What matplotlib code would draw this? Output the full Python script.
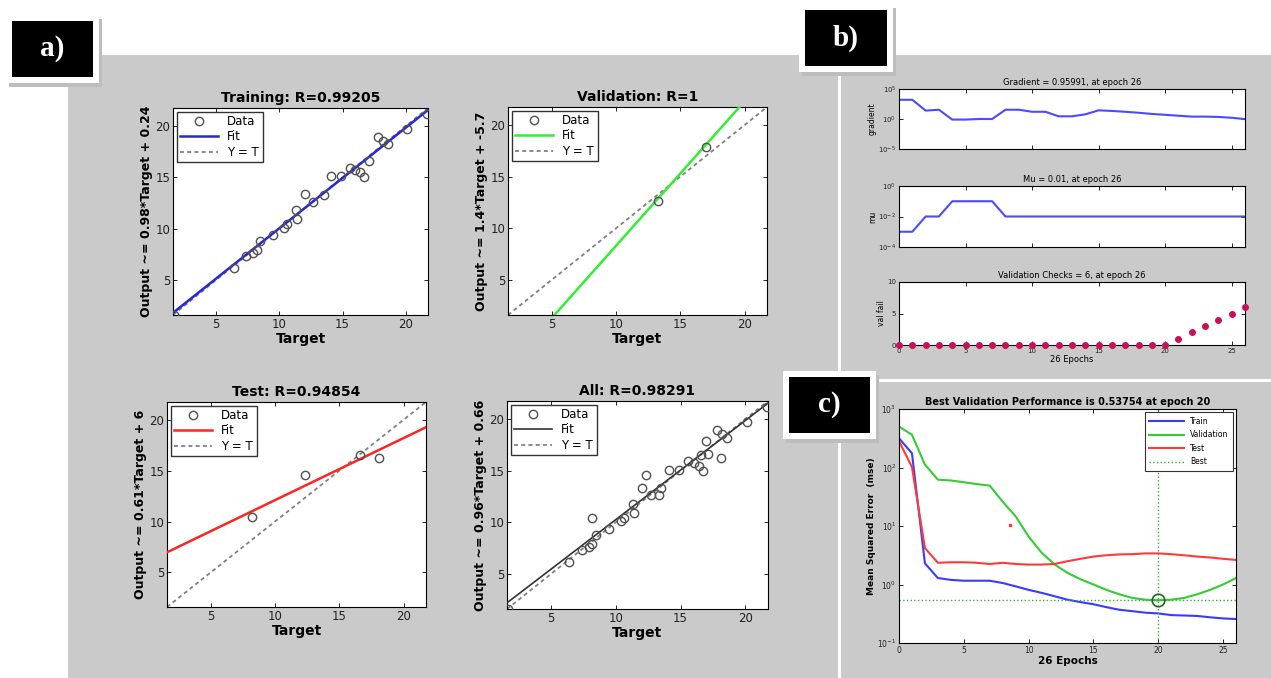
import numpy as np
import matplotlib.pyplot as plt
from matplotlib.patches import Rectangle

W, H = 1271, 678

# ---- regression data (Target, Output) ----
train_t = [1.7, 6.4, 7.4, 7.9, 8.2, 8.5, 9.5, 10.4, 10.6, 11.3, 11.4, 12.0, 12.7, 13.5,
           14.1, 14.9, 15.6, 16.0, 16.4, 16.7, 17.1, 17.8, 18.2, 18.6, 20.1, 21.7]
train_o = [1.6, 6.2, 7.3, 7.6, 7.9, 8.8, 9.35, 10.1, 10.45, 11.8, 10.9, 13.35, 12.6, 13.3,
           15.1, 15.1, 15.95, 15.7, 15.5, 15.0, 16.6, 18.9, 18.55, 18.2, 19.7, 21.2]
val_t = [13.3, 17.0]
val_o = [12.6, 17.9]
test_t = [8.2, 12.3, 16.6, 18.1]
test_o = [10.4, 14.6, 16.5, 16.2]
all_t = train_t + val_t + test_t
all_o = train_o + val_o + test_o

reg_titles = ['Training: R=0.99205', 'Validation: R=1', 'Test: R=0.94854', 'All: R=0.98291']
fit_coef = [(0.98, 0.24), (1.4, -5.7), (0.61, 6.0), (0.96, 0.66)]
fit_labels = ['Output ~= 0.98*Target + 0.24', 'Output ~= 1.4*Target + -5.7',
              'Output ~= 0.61*Target + 6', 'Output ~= 0.96*Target + 0.66']
fit_colors = ['#2626dd', '#33ee33', '#ff2424', '#333333']

# ---- training state ----
epochs = np.arange(27)
gradient = [1600, 1600, 25, 35, 0.8, 0.8, 1.0, 1.0, 35, 35, 16, 16, 2.8, 2.8, 6, 28,
            22, 16, 11, 7, 5, 3.5, 2.5, 2.5, 2.2, 1.6, 0.95991]
mu = [1e-3, 1e-3, 1e-2, 1e-2, 1e-1, 1e-1, 1e-1, 1e-1] + [1e-2] * 19
val_fail = [0] * 21 + [1, 2, 3, 4, 5, 6]

# ---- performance ----
perf_train = [316, 175, 2.3, 1.29, 1.2, 1.16, 1.16, 1.16, 1.06, 0.93, 0.81, 0.72, 0.63, 0.55,
              0.50, 0.46, 0.41, 0.37, 0.35, 0.33, 0.32, 0.30, 0.295, 0.29, 0.275, 0.263, 0.257]
perf_val = [500, 363, 112, 62, 60, 56, 52, 49, 26, 14.6, 6.6, 3.5, 2.2, 1.58, 1.23, 1.0,
            0.81, 0.68, 0.59, 0.55, 0.53754, 0.55, 0.59, 0.68, 0.81, 1.0, 1.29]
perf_test = [282, 102, 4.2, 2.35, 2.4, 2.4, 2.35, 2.24, 2.35, 2.24, 2.19, 2.19, 2.24, 2.5,
             2.75, 3.0, 3.16, 3.27, 3.3, 3.4, 3.4, 3.3, 3.16, 3.0, 2.9, 2.75, 2.63]
stray_test = (8.6, 10.5)
best_epoch = 20
best_perf = 0.53754

GRAY = '#cacaca'


def px(x0, y0, x1, y1):
    return [x0 / W, 1 - y1 / H, (x1 - x0) / W, (y1 - y0) / H]


def rect(fig, x0, y0, x1, y1, color, z=-1):
    fig.patches.append(Rectangle((x0 / W, 1 - y1 / H), (x1 - x0) / W, (y1 - y0) / H,
                                 transform=fig.transFigure, facecolor=color,
                                 edgecolor='none', zorder=z))


def matlab_ticks(ax, size):
    ax.tick_params(direction='in', top=True, right=True, length=3, width=0.6,
                   labelsize=size, pad=2, labelcolor='#222222')
    for s in ax.spines.values():
        s.set_linewidth(0.8)


fig = plt.figure(figsize=(W / 100, H / 100), dpi=100)
fig.patch.set_facecolor('white')

# panel backgrounds
rect(fig, 68, 55, 838, 678, GRAY)
rect(fig, 841, 55, 1271, 379, GRAY)
rect(fig, 841, 382, 1271, 678, GRAY)

# ---- a) regression plots ----
reg_boxes = [(173, 108, 428, 315), (508, 107, 767, 315), (167, 402, 426, 607), (507, 401, 768, 609)]
reg_data = [(train_t, train_o), (val_t, val_o), (test_t, test_o), (all_t, all_o)]
lim = (1.6, 21.75)
xx = np.array(lim)
for box, (t, o), title, (a, b), ylab, col in zip(reg_boxes, reg_data, reg_titles,
                                                  fit_coef, fit_labels, fit_colors):
    ax = fig.add_axes(px(*box))
    ax.plot(t, o, 'o', mfc='none', mec='#505050', ms=6, mew=1.0, label='Data', zorder=4)
    lw = 1.2 if col == '#333333' else 1.8
    ax.plot(xx, a * xx + b, '-', color=col, lw=lw, label='Fit', zorder=3)
    ax.plot(xx, xx, color='#808080', lw=1.3, ls=(0, (2.2, 1.8)), label='Y = T', zorder=2)
    ax.set_xlim(lim)
    ax.set_ylim(lim)
    ax.set_xticks([5, 10, 15, 20])
    ax.set_yticks([5, 10, 15, 20])
    matlab_ticks(ax, 8.5)
    ax.set_title(title, fontsize=10, fontweight='bold', pad=4)
    ax.set_xlabel('Target', fontsize=10, fontweight='bold', labelpad=1)
    ax.set_ylabel(ylab, fontsize=9, fontweight='bold', labelpad=2)
    leg = ax.legend(loc='upper left', fontsize=8.5, handlelength=3.2, fancybox=False,
                    framealpha=1, edgecolor='#333333', borderaxespad=0.3,
                    labelspacing=0.2, borderpad=0.3)
    leg.get_frame().set_linewidth(1.0)

# ---- b) training state ----
ax1 = fig.add_axes(px(899, 89, 1245, 149))
ax1.semilogy(epochs, gradient, color='#4a4aff', lw=1.5)
ax1.set_ylim(1e-5, 1e5)
ax1.set_yticks([1e-5, 1e0, 1e5])
ax1.minorticks_off()
ax1.set_title('Gradient = 0.95991, at epoch 26', fontsize=6, pad=3)
ax1.set_ylabel('gradient', fontsize=5.5, labelpad=1)

ax2 = fig.add_axes(px(899, 186, 1245, 247))
ax2.semilogy(epochs, mu, color='#4a4aff', lw=1.5)
ax2.set_ylim(1e-4, 1e0)
ax2.set_yticks([1e-4, 1e-2, 1e0])
ax2.minorticks_off()
ax2.set_title('Mu = 0.01, at epoch 26', fontsize=6, pad=3)
ax2.set_ylabel('mu', fontsize=5.5, labelpad=1)

ax3 = fig.add_axes(px(899, 282, 1245, 345))
ax3.plot(epochs, val_fail, 'o', color='#c8105a', ms=4, clip_on=False, zorder=5)
ax3.set_ylim(0, 10)
ax3.set_yticks([0, 5, 10])
ax3.set_title('Validation Checks = 6, at epoch 26', fontsize=6, pad=3)
ax3.set_ylabel('val fail', fontsize=5.5, labelpad=1)
ax3.set_xlabel('26 Epochs', fontsize=6, labelpad=1)

for ax in (ax1, ax2, ax3):
    ax.set_xlim(0, 26)
    ax.set_xticks([0, 5, 10, 15, 20, 25])
    matlab_ticks(ax, 5)
for ax in (ax1, ax2):
    ax.set_xticklabels([])

# ---- c) performance ----
axp = fig.add_axes(px(899, 409, 1236, 643))
axp.semilogy(epochs, perf_train, color='#3a3aff', lw=1.5, label='Train')
axp.semilogy(epochs, perf_val, color='#33cc33', lw=1.5, label='Validation')
axp.semilogy(epochs, perf_test, color='#ff3a3a', lw=1.5, label='Test')
axp.plot(*stray_test, 's', color='#ff3a3a', ms=1.8)
axp.axhline(best_perf, color='#33aa33', ls=':', lw=1.0, label='Best')
axp.axvline(best_epoch, color='#33aa33', ls=':', lw=1.0)
axp.plot(best_epoch, best_perf, 'o', mfc='none', mec='#226622', ms=9, mew=1.2)
axp.set_xlim(0, 26)
axp.set_ylim(1e-1, 1e3)
axp.set_xticks([0, 5, 10, 15, 20, 25])
axp.set_yticks([1e-1, 1e0, 1e1, 1e2, 1e3])
axp.minorticks_off()
matlab_ticks(axp, 5.5)
axp.set_title('Best Validation Performance is 0.53754 at epoch 20', fontsize=7,
              fontweight='bold', pad=3)
axp.set_ylabel('Mean Squared Error  (mse)', fontsize=6.5, fontweight='bold', labelpad=1)
axp.set_xlabel('26 Epochs', fontsize=7.5, fontweight='bold', labelpad=1)
leg = axp.legend(loc='upper right', fontsize=5.5, handlelength=4.5, fancybox=False,
                 framealpha=1, edgecolor='#333333', labelspacing=0.6, borderpad=0.6,
                 borderaxespad=0.4)
leg.get_frame().set_linewidth(0.8)

# ---- panel labels ----
for (x0, y0, x1, y1), lab in [((12, 21, 93, 77), 'a)'), ((805, 10, 887, 66), 'b)'),
                              ((789, 377, 870, 433), 'c)')]:
    rect(fig, x0 - 3, y0 - 2, x1 + 9, y1 + 10, '#bdbdbd', z=5)
    rect(fig, x0 - 6, y0 - 6, x1 + 6, y1 + 6, 'white', z=6)
    rect(fig, x0, y0, x1, y1, 'black', z=7)
    fig.text((x0 + x1) / 2 / W, 1 - (y0 + y1) / 2 / H, lab, color='white',
             fontsize=21, fontweight='bold', family='Liberation Serif',
             ha='center', va='center', zorder=8)

fig.savefig('out.png', dpi=100)
